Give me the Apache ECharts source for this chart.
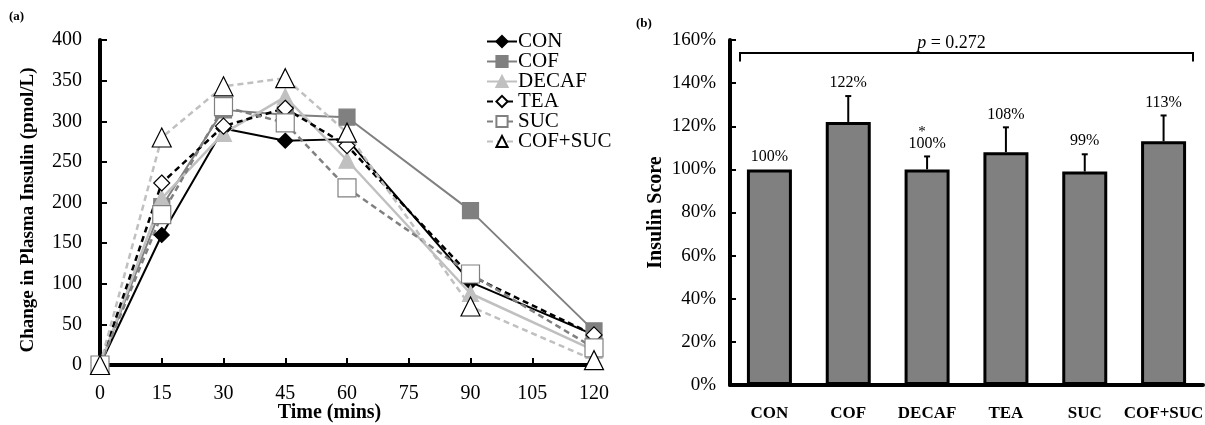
<!DOCTYPE html>
<html><head><meta charset="utf-8">
<script src="https://cdn.jsdelivr.net/npm/echarts@6/dist/echarts.min.js"></script>
<style>html,body{margin:0;padding:0;background:#fff}#c{width:1205px;height:425px}</style>
</head><body><div id="c"></div>
<script>
// ---- data ----
const timeVals = [0, 15, 30, 45, 60, 90, 120];
const con    = [0, 160, 291, 276, 278, 102, 37];
const cof    = [0, 195, 314, 308, 305, 190, 42];
const decaf  = [0, 205, 285, 330, 252, 88, 18];
const tea    = [0, 224, 294, 316, 270, 110, 37];
const suc    = [0, 185, 318, 298, 218, 112, 21];
const cofsuc = [0, 280, 343, 353, 286, 72, 6];
const categories = ['CON', 'COF', 'DECAF', 'TEA', 'SUC', 'COF+SUC'];
const scores = [100, 122, 100, 108, 99, 113];
const errors = [0, 12, 6, 11.5, 8, 12];
const scoreLabels = ['100%', '122%', '100%', '108%', '99%', '113%'];
const sigMarks = ['', '', '*', '', '', ''];
const pText = '= 0.272';
const bracketVal = [154, 150];

const FONT = "'Liberation Serif','Times New Roman',serif";
const pairs = a => a.map((v, i) => [timeVals[i], v]);

const chart = echarts.init(document.getElementById('c'));
function lineSeries(name, data, color, type, width, symbol, size, fill, border) {
  return {
    name, type: 'line', data: pairs(data), xAxisIndex: 0, yAxisIndex: 0,
    symbol, symbolSize: size,
    lineStyle: { color, width, type: type === 'dashed' ? [6, 4] : 'solid' },
    itemStyle: { color: fill, borderColor: border, borderWidth: 1.2 },
    z: 3
  };
}
const series = [
  lineSeries('CON', con, '#000', 'solid', 2, 'diamond', 15, '#000', '#000'),
  lineSeries('COF', cof, '#808080', 'solid', 2, 'rect', 16, '#808080', '#808080'),
  lineSeries('DECAF', decaf, '#c0c0c0', 'solid', 2.5, 'triangle', 16, '#c0c0c0', '#c0c0c0'),
  lineSeries('TEA', tea, '#000', 'dashed', 2.5, 'diamond', 16, '#fff', '#000'),
  lineSeries('SUC', suc, '#808080', 'dashed', 2.5, 'rect', 18, '#fff', '#808080'),
  lineSeries('COF+SUC', cofsuc, '#c0c0c0', 'dashed', 2.5, 'triangle', 19, '#fff', '#000'),
  {
    type: 'bar', xAxisIndex: 1, yAxisIndex: 1, data: scores, barWidth: 45,
    itemStyle: { color: '#808080', borderColor: '#000', borderWidth: 3 }
  },
  {
    type: 'custom', xAxisIndex: 1, yAxisIndex: 1, z: 5,
    data: scores.map((v, i) => [i, v, errors[i]]),
    renderItem(params, api) {
      const i = api.value(0), v = api.value(1), e = api.value(2);
      const base = api.coord([i, v]);
      const top = api.coord([i, v + e]);
      const children = [];
      if (e > 0) {
        children.push({ type: 'line', shape: { x1: base[0], y1: base[1], x2: top[0], y2: top[1] }, style: { stroke: '#000', lineWidth: 2 } });
        children.push({ type: 'line', shape: { x1: top[0] - 3, y1: top[1], x2: top[0] + 3, y2: top[1] }, style: { stroke: '#000', lineWidth: 2 } });
      }
      children.push({ type: 'text', style: { text: scoreLabels[i], x: top[0], y: top[1] - 13, align: 'center', verticalAlign: 'middle', font: '16px ' + FONT, fill: '#000' } });
      if (sigMarks[i]) {
        children.push({ type: 'text', style: { text: sigMarks[i], x: top[0] - 5, y: top[1] - 24, align: 'center', verticalAlign: 'middle', font: '15px ' + FONT, fill: '#000' } });
      }
      return { type: 'group', children };
    }
  },
  {
    type: 'custom', xAxisIndex: 1, yAxisIndex: 1, z: 5,
    data: [[0, bracketVal[0], bracketVal[1]]],
    renderItem(params, api) {
      const cs = params.coordSys;
      const yT = api.coord([0, api.value(1)])[1];
      const yB = api.coord([0, api.value(2)])[1];
      const x1 = cs.x + 10, x2 = cs.x + cs.width - 10;
      return { type: 'group', children: [
        { type: 'polyline', shape: { points: [[x1, yB], [x1, yT], [x2, yT], [x2, yB]] }, style: { stroke: '#000', lineWidth: 2, fill: null } },
        { type: 'text', style: { text: '{i|p} ' + pText, x: (x1 + x2) / 2 - 15, y: yT - 10, align: 'center', verticalAlign: 'middle', font: '18px ' + FONT, fill: '#000',
          rich: { i: { fontStyle: 'italic', fontFamily: FONT, fontSize: 18 } } } }
      ] };
    }
  }
];

chart.setOption({
  animation: false,
  textStyle: { fontFamily: FONT },
  graphic: [
    { type: 'text', left: 9, top: 10, style: { text: '(a)', font: 'bold 13px ' + FONT, fill: '#000' } },
    { type: 'text', left: 636, top: 17, style: { text: '(b)', font: 'bold 13px ' + FONT, fill: '#000' } }
  ],
  legend: {
    data: ['CON', 'COF', 'DECAF', 'TEA', 'SUC', 'COF+SUC'],
    orient: 'vertical', left: 481, top: 26, itemGap: -1, itemWidth: 30, itemHeight: 14,
    textStyle: { fontFamily: FONT, fontSize: 21, lineHeight: 18, color: '#000', padding: [0, 0, 0, -4] }
  },
  grid: [
    { left: 100, top: 40, width: 494, height: 325, outerBoundsMode: 'none', containLabel: false },
    { left: 730, top: 40, width: 473, height: 345, outerBoundsMode: 'none', containLabel: false }
  ],
  xAxis: [
    {
      gridIndex: 0, type: 'value', min: 0, max: 120, interval: 15,
      name: 'Time (mins)', nameLocation: 'middle', nameGap: 38, nameMoveOverlap: false,
      nameTextStyle: { fontFamily: FONT, fontWeight: 'bold', fontSize: 20, color: '#000', padding: [0, 35, 0, 0] },
      axisLine: { lineStyle: { color: '#000', width: 4 } },
      axisTick: { inside: true, length: 7, lineStyle: { color: '#000', width: 2 } },
      axisLabel: { margin: 19, fontFamily: FONT, fontSize: 20, color: '#000' },
      splitLine: { show: false }
    },
    {
      gridIndex: 1, type: 'category', data: categories,
      axisLine: { lineStyle: { color: '#000', width: 4 } },
      axisTick: { inside: true, length: 5, lineStyle: { color: '#000', width: 2 } },
      axisLabel: { interval: 0, margin: 20, fontFamily: FONT, fontWeight: 'bold', fontSize: 17, color: '#000' }
    }
  ],
  yAxis: [
    {
      gridIndex: 0, type: 'value', min: 0, max: 400, interval: 50,
      name: 'Change in Plasma Insulin (pmol/L)', nameLocation: 'middle', nameGap: 62, nameRotate: 90, nameMoveOverlap: false,
      nameTextStyle: { fontFamily: FONT, fontWeight: 'bold', fontSize: 19, color: '#000', padding: [0, 15, 0, 0] },
      axisLine: { show: true, lineStyle: { color: '#000', width: 4 } },
      axisTick: { show: true, inside: true, length: 7, lineStyle: { color: '#000', width: 2 } },
      axisLabel: { margin: 18, fontFamily: FONT, fontSize: 20, color: '#000' },
      splitLine: { show: false }
    },
    {
      gridIndex: 1, type: 'value', min: 0, max: 160, interval: 20,
      name: 'Insulin Score', nameLocation: 'middle', nameGap: 64, nameRotate: 90, nameMoveOverlap: false,
      nameTextStyle: { fontFamily: FONT, fontWeight: 'bold', fontSize: 20, color: '#000' },
      axisLine: { show: true, lineStyle: { color: '#000', width: 4 } },
      axisTick: { show: true, inside: true, length: 6, lineStyle: { color: '#000', width: 2 } },
      axisLabel: { margin: 14, fontFamily: FONT, fontSize: 19, color: '#000', formatter: '{value}%' },
      splitLine: { show: false }
    }
  ],
  series
});
</script>
</body></html>
